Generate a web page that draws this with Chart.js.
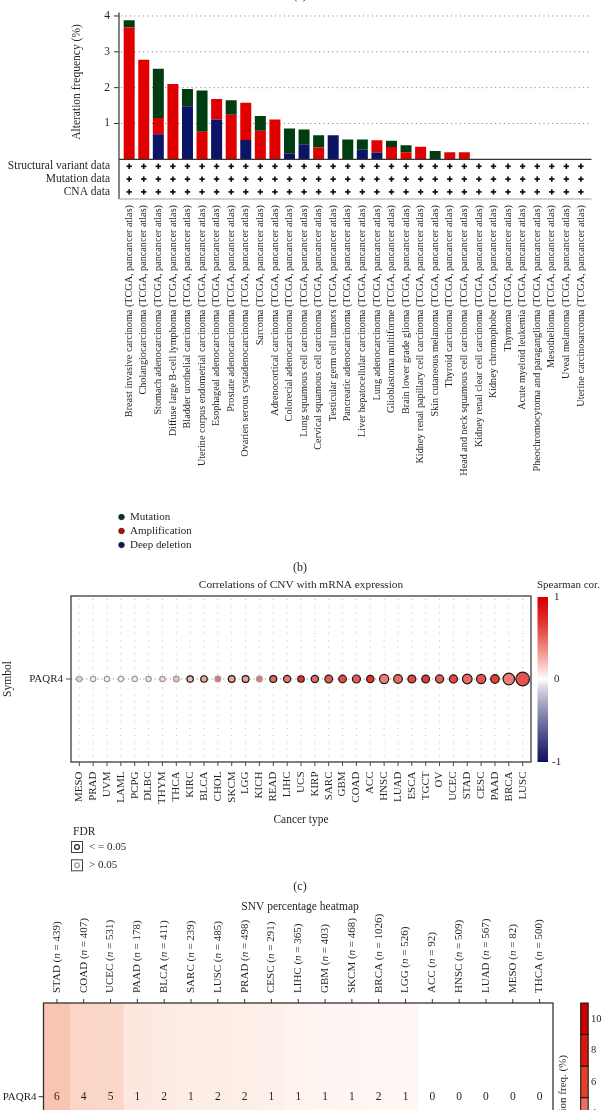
<!DOCTYPE html>
<html><head><meta charset="utf-8">
<script src="https://cdn.jsdelivr.net/npm/chart.js@4/dist/chart.umd.min.js"></script>
<style>
html,body{margin:0;padding:0;background:#fff;}
#wrap{position:relative;width:602px;height:1110px;overflow:hidden;background:#fff;}
canvas{position:absolute;left:0;}
</style></head><body>
<div id="wrap">
<canvas id="cA" width="602" height="560" style="top:0px"></canvas>
<canvas id="cB" width="602" height="335" style="top:560px"></canvas>
<canvas id="cC" width="602" height="300" style="top:895px"></canvas>
</div>
<script>
// ---------- Panel (a) data ----------
const cancerStudies = [
 'Breast invasive carcinoma (TCGA, pancancer atlas)',
 'Cholangiocarcinoma (TCGA, pancancer atlas)',
 'Stomach adenocarcinoma (TCGA, pancancer atlas)',
 'Diffuse large B-cell lymphoma (TCGA, pancancer atlas)',
 'Bladder urothelial carcinoma (TCGA, pancancer atlas)',
 'Uterine corpus endometrial carcinoma (TCGA, pancancer atlas)',
 'Esophageal adenocarcinoma (TCGA, pancancer atlas)',
 'Prostate adenocarcinoma (TCGA, pancancer atlas)',
 'Ovarien serous cystadenocarcinoma (TCGA, pancancer atlas)',
 'Sarcoma (TCGA, pancancer atlas)',
 'Adrenocortical carcinoma (TCGA, pancancer atlas)',
 'Colorecial adenocarcinoma (TCGA, pancancer atlas)',
 'Lung squamous cell carcinoma (TCGA, pancancer atlas)',
 'Cervical squamous cell carcinoma (TCGA, pancancer atlas)',
 'Testicular germ cell tumors (TCGA, pancancer atlas)',
 'Pancreatic adenocarcinoma (TCGA, pancancer atlas)',
 'Liver hepatocellular carcinoma (TCGA, pancancer atlas)',
 'Lung adenocarcinoma (TCGA, pancancer atlas)',
 'Glioblastoma multiforme (TCGA, pancancer atlas)',
 'Brain lower grade glioma (TCGA, pancancer atlas)',
 'Kidney renal papillary cell carcinoma (TCGA, pancancer atlas)',
 'Skin cutaneous melanoma (TCGA, pancancer atlas)',
 'Thyroid carcinoma (TCGA, pancancer atlas)',
 'Head and neck squamous cell carcinoma (TCGA, pancancer atlas)',
 'Kidney renal clear cell carcinoma (TCGA, pancancer atlas)',
 'Kidney chromophobe (TCGA, pancancer atlas)',
 'Thymoma (TCGA, pancancer atlas)',
 'Acute myeloid leukemia (TCGA, pancancer atlas)',
 'Pheochromocytoma and paraganglioma (TCGA, pancancer atlas)',
 'Mesothelioma (TCGA, pancancer atlas)',
 'Uveal melanoma (TCGA, pancancer atlas)',
 'Uterine carcinosarcoma (TCGA, pancancer atlas)'
];
const deepDeletion  = [0,0,0.70,0,1.48,0,1.11,0,0.54,0,0,0.17,0.42,0,0.67,0,0.27,0.19,0,0,0,0,0,0,0,0,0,0,0,0,0,0];
const amplification = [3.68,2.78,0.45,2.10,0,0.77,0.57,1.24,1.04,0.80,1.11,0,0,0.33,0,0,0,0.34,0.34,0.20,0.35,0,0.20,0.20,0,0,0,0,0,0,0,0];
const mutation      = [0.20,0,1.38,0,0.48,1.15,0,0.41,0,0.41,0,0.69,0.41,0.34,0,0.55,0.28,0,0.18,0.19,0,0.23,0,0,0,0,0,0,0,0,0,0];
const alterationTicks = [1,2,3,4];
const profileRows = ['Structural variant data','Mutation data','CNA data'];
const alterationLegend = ['Mutation','Amplification','Deep deletion'];

// ---------- Panel (b) data ----------
const cnvTypes = ['MESO','PRAD','UVM','LAML','PCPG','DLBC','THYM','THCA','KIRC','BLCA','CHOL','SKCM','LGG','KICH','READ','LIHC','UCS','KIRP','SARC','GBM','COAD','ACC','HNSC','LUAD','ESCA','TGCT','OV','UCEC','STAD','CESC','PAAD','BRCA','LUSC'];
const spearmanCor = [-0.1,0.05,0.03,0.02,0.05,0.08,0.10,0.20,0.22,0.28,0.45,0.30,0.30,0.45,0.50,0.45,0.72,0.50,0.55,0.62,0.55,0.70,0.42,0.50,0.62,0.68,0.55,0.62,0.50,0.58,0.66,0.42,0.58];
const negLog10FDR = [0.6,0.4,0.4,0.2,0.3,0.3,0.4,1.0,2.5,3.0,1.0,3.5,4.0,1.0,4.5,5.5,3.0,6.0,8.0,7.5,9.5,6.5,17,14,9,8,10,10,21,18,13,40,67];
const corTicks = [1,0,-1];
const fdrLegend = ['< = 0.05','> 0.05'];

// ---------- Panel (c) data ----------
const snvTypes = ['STAD','COAD','UCEC','PAAD','BLCA','SARC','LUSC','PRAD','CESC','LIHC','GBM','SKCM','BRCA','LGG','ACC','HNSC','LUAD','MESO','THCA'];
const snvSampleN = [439,407,531,178,411,239,485,498,291,365,403,468,1026,526,92,509,567,82,500];
const snvMutated = [6,4,5,1,2,1,2,2,1,1,1,1,2,1,0,0,0,0,0];
const freqLegendTicks = [10,8,6,4];

// ---------- helpers ----------
const FONT = '"Liberation Serif","DejaVu Serif",serif';
const INK = '#231f20';
function T(ctx, s, x, y, o) {
  o = o || {};
  ctx.save();
  ctx.font = (o.style ? o.style + ' ' : '') + (o.size || 11) + 'px ' + FONT;
  ctx.fillStyle = o.color || INK;
  ctx.textAlign = o.align || 'left';
  ctx.textBaseline = o.base || 'middle';
  ctx.translate(x, y);
  if (o.rot) ctx.rotate(o.rot);
  ctx.fillText(s, 0, 0);
  ctx.restore();
}
function line(ctx, x1, y1, x2, y2, color, w, dash) {
  ctx.save();
  ctx.strokeStyle = color; ctx.lineWidth = w || 1;
  ctx.setLineDash(dash || []);
  ctx.beginPath(); ctx.moveTo(x1, y1); ctx.lineTo(x2, y2); ctx.stroke();
  ctx.restore();
}
function corColor(v) {
  let r, g, b;
  if (v >= 0) {
    r = 255 - 45 * v; g = 255 * Math.pow(1 - v, 1.3); b = 255 * Math.pow(1 - v, 1.4);
  } else {
    const t = -v;
    r = 255 - 240 * Math.pow(t, 0.8); g = 255 - 240 * Math.pow(t, 0.8); b = 255 - 160 * Math.pow(t, 0.8);
  }
  return `rgb(${Math.round(r)},${Math.round(g)},${Math.round(b)})`;
}
function bubbleRadius(v) { return 2.3 + 0.55 * Math.sqrt(v); }
function freqColor(p) {
  const c = x => Math.max(0, Math.min(255, Math.round(x)));
  return `rgb(${c(255 - 4.4 * p)},${c(255 - 43 * p)},${c(255 - 57 * p)})`;
}
const BAR_COLORS = {del: '#0c1466', amp: '#e00000', mut: '#003d10'};

// ---------- Chart A ----------
const AX_L = 119, AX_R = 591.5, TABLE_BOTTOM = 199;
const plugA = {
  id: 'plugA',
  beforeDatasetsDraw(chart) {
    const {ctx, scales: {y}} = chart;
    alterationTicks.forEach(t => {
      const yy = y.getPixelForValue(t);
      line(ctx, AX_L + 2, yy, AX_R, yy, '#8a8a8a', 1, [1.2, 3.2]);
    });
  },
  afterDraw(chart) {
    const {ctx, scales: {x, y}} = chart;
    const y0 = y.getPixelForValue(0);
    line(ctx, AX_L, y.getPixelForValue(4.1), AX_L, TABLE_BOTTOM, '#333', 1.2);
    line(ctx, AX_L, y0, AX_R, y0, '#333', 1.2);
    line(ctx, AX_L, TABLE_BOTTOM, AX_R, TABLE_BOTTOM, '#a0a0a0', 1);
    alterationTicks.forEach(t => {
      const yy = y.getPixelForValue(t);
      line(ctx, AX_L - 5, yy, AX_L, yy, '#333', 1);
      T(ctx, String(t), AX_L - 9, yy, {align: 'right', size: 11.5});
    });
    T(ctx, 'Alteration frequency (%)', 77, 82, {align: 'center', rot: -Math.PI / 2, size: 11.5});
    profileRows.forEach((r, k) => {
      const yy = y0 + 7 + 12.8 * k;
      T(ctx, r, 110, yy, {align: 'right', size: 11.5});
      cancerStudies.forEach((c, i) => {
        const xx = x.getPixelForValue(i);
        line(ctx, xx - 2.7, yy, xx + 2.7, yy, '#111', 1.7);
        line(ctx, xx, yy - 2.7, xx, yy + 2.7, '#111', 1.7);
      });
    });
    cancerStudies.forEach((c, i) => {
      T(ctx, c, x.getPixelForValue(i), 205, {align: 'right', rot: -Math.PI / 2, size: 10.2});
    });
    const legCols = [BAR_COLORS.mut, BAR_COLORS.amp, BAR_COLORS.del];
    alterationLegend.forEach((s, k) => {
      const yy = 517 + 14 * k;
      ctx.save();
      ctx.beginPath(); ctx.arc(121.5, yy, 2.8, 0, Math.PI * 2);
      ctx.fillStyle = legCols[k]; ctx.fill();
      ctx.strokeStyle = '#222'; ctx.lineWidth = 0.8; ctx.stroke();
      ctx.restore();
      T(ctx, s, 130, yy, {size: 11});
    });
    T(ctx, '(a)', 300, -4, {align: 'center', size: 12});
  }
};
new Chart(document.getElementById('cA'), {
  type: 'bar',
  data: {
    labels: cancerStudies,
    datasets: [
      {label: 'Deep deletion', data: deepDeletion, backgroundColor: BAR_COLORS.del},
      {label: 'Amplification', data: amplification, backgroundColor: BAR_COLORS.amp},
      {label: 'Mutation', data: mutation, backgroundColor: BAR_COLORS.mut}
    ]
  },
  options: {
    responsive: false, animation: false, devicePixelRatio: 1,
    layout: {padding: {left: 121.9, right: 602 - 588.2, top: 12.4, bottom: 560 - 159.3}},
    datasets: {bar: {barPercentage: 0.755, categoryPercentage: 1, borderWidth: 0}},
    plugins: {legend: {display: false}, tooltip: {enabled: false}},
    scales: {
      x: {stacked: true, display: false},
      y: {stacked: true, display: false, min: 0, max: 4.1}
    }
  },
  plugins: [plugA]
});

// ---------- Chart B ----------
const plugB = {
  id: 'plugB',
  beforeDatasetsDraw(chart) {
    const {ctx, chartArea: a, scales: {x, y}} = chart;
    cnvTypes.forEach((c, i) => {
      const xx = x.getPixelForValue(i);
      line(ctx, xx, a.top + 3, xx, a.bottom, '#b5b5b5', 0.9, [1, 5.8]);
    });
    const y0 = y.getPixelForValue(0);
    line(ctx, a.left, y0, a.right, y0, '#888', 0.9, [1.2, 2.6]);
  },
  afterDraw(chart) {
    const {ctx, chartArea: a, scales: {x, y}} = chart;
    ctx.save();
    ctx.strokeStyle = '#4a4a4a'; ctx.lineWidth = 1.4;
    ctx.strokeRect(a.left, a.top, a.right - a.left, a.bottom - a.top);
    ctx.restore();
    const y0 = y.getPixelForValue(0);
    line(ctx, a.left - 5, y0, a.left, y0, '#4a4a4a', 1);
    T(ctx, 'PAQR4', a.left - 8, y0, {align: 'right', size: 11});
    T(ctx, 'Symbol', 8, y0, {align: 'center', rot: -Math.PI / 2, size: 11.5});
    cnvTypes.forEach((c, i) => {
      const xx = x.getPixelForValue(i);
      line(ctx, xx, a.bottom, xx, a.bottom + 4, '#4a4a4a', 1);
      T(ctx, c, xx, a.bottom + 9.5, {align: 'right', rot: -Math.PI / 2, size: 11});
    });
    T(ctx, '(b)', 300, 7.7, {align: 'center', size: 12});
    T(ctx, 'Correlations of CNV with mRNA expression', 301, 25, {align: 'center', size: 11.3});
    T(ctx, 'Cancer type', 301, 260, {align: 'center', size: 11.5});
    const cbL = 537.5, cbW = 10.5, cbT = a.top + 1, cbB = a.bottom;
    const grad = ctx.createLinearGradient(0, cbT, 0, cbB);
    for (let k = 0; k <= 40; k++) grad.addColorStop(k / 40, corColor(1 - k / 20));
    ctx.save(); ctx.fillStyle = grad; ctx.fillRect(cbL, cbT, cbW, cbB - cbT); ctx.restore();
    T(ctx, 'Spearman cor.', 537, 25, {size: 11});
    corTicks.forEach(t => {
      const yy = cbT + (1 - t) / 2 * (cbB - cbT);
      T(ctx, String(t), t < 0 ? 552 : 554, yy, {size: 11});
    });
    T(ctx, 'FDR', 73, 272, {size: 11.5});
    fdrLegend.forEach((s, k) => {
      const yy = 287 + 18.3 * k;
      const col = k === 0 ? '#222' : '#999';
      ctx.save();
      ctx.strokeStyle = '#444'; ctx.lineWidth = 1;
      ctx.strokeRect(71.5, yy - 5.5, 11, 11);
      ctx.beginPath(); ctx.arc(77, yy, 2.4, 0, Math.PI * 2);
      ctx.strokeStyle = col; ctx.lineWidth = 1.2; ctx.stroke();
      ctx.restore();
      T(ctx, s, 89, yy, {size: 11});
    });
    T(ctx, '(c)', 300, 326.7, {align: 'center', size: 12});
  }
};
new Chart(document.getElementById('cB'), {
  type: 'bubble',
  data: {
    datasets: [{
      data: cnvTypes.map((c, i) => ({x: i, y: 0, r: bubbleRadius(negLog10FDR[i])})),
      backgroundColor: spearmanCor.map(corColor),
      borderColor: negLog10FDR.map(v => v >= 1.3 ? '#1a1a1a' : '#9a9a9a'),
      borderWidth: 1.2
    }]
  },
  options: {
    responsive: false, animation: false, devicePixelRatio: 1,
    layout: {padding: {left: 71, right: 602 - 531, top: 36, bottom: 335 - 202}},
    plugins: {legend: {display: false}, tooltip: {enabled: false}},
    scales: {
      x: {type: 'linear', min: -0.6, max: 32.6, display: false},
      y: {type: 'linear', min: -1, max: 1, display: false}
    }
  },
  plugins: [plugB]
});

// ---------- Chart C ----------
const HEAT_SEG_COLORS = ['#c80000', '#d8180c', '#e3402a', '#ec7060'];
const plugC = {
  id: 'plugC',
  afterDraw(chart) {
    const {ctx, chartArea: a, scales: {x, y}} = chart;
    ctx.save();
    ctx.strokeStyle = '#333'; ctx.lineWidth = 1.3;
    ctx.strokeRect(a.left, a.top, a.right - a.left, a.bottom - a.top);
    ctx.restore();
    const yc = y.getPixelForValue(0.5);
    T(ctx, 'SNV percentage heatmap', 300, 11.7, {align: 'center', size: 11.5});
    line(ctx, a.left - 5, yc, a.left, yc, '#333', 1);
    T(ctx, 'PAQR4', a.left - 7, yc, {align: 'right', size: 11});
    snvTypes.forEach((c, i) => {
      const xx = x.getPixelForValue(i);
      line(ctx, xx, a.top - 4, xx, a.top, '#333', 1);
      ctx.save();
      ctx.translate(xx, 98); ctx.rotate(-Math.PI / 2);
      ctx.fillStyle = INK; ctx.textBaseline = 'middle'; ctx.textAlign = 'left';
      const p1 = c + ' (', p2 = 'n', p3 = ' = ' + snvSampleN[i] + ')';
      ctx.font = '11px ' + FONT; ctx.fillText(p1, 0, 0);
      let w = ctx.measureText(p1).width;
      ctx.font = 'italic 11px ' + FONT; ctx.fillText(p2, w, 0);
      w += ctx.measureText(p2).width;
      ctx.font = '11px ' + FONT; ctx.fillText(p3, w, 0);
      ctx.restore();
      T(ctx, String(snvMutated[i]), xx, yc, {align: 'center', size: 11.5});
    });
    const cbL = 580.7, cbW = 7.5, segH = 31.6, cbT = a.top;
    freqLegendTicks.forEach((t, k) => {
      const top = cbT + segH * k;
      ctx.save();
      ctx.fillStyle = HEAT_SEG_COLORS[k];
      ctx.fillRect(cbL, top, cbW, segH);
      ctx.strokeStyle = '#111'; ctx.lineWidth = 1;
      ctx.strokeRect(cbL, top, cbW, segH);
      ctx.restore();
      T(ctx, String(t), 591, top + segH / 2, {size: 10.5});
    });
    T(ctx, 'Mutation freq. (%)', 563, 160, {align: 'right', rot: -Math.PI / 2, size: 11});
  }
};
new Chart(document.getElementById('cC'), {
  type: 'bar',
  data: {
    labels: snvTypes,
    datasets: [{
      data: snvTypes.map(() => [0, 1]),
      backgroundColor: snvTypes.map((c, i) => freqColor(snvMutated[i] / snvSampleN[i] * 100)),
      borderWidth: 0, barPercentage: 1, categoryPercentage: 1
    }]
  },
  options: {
    responsive: false, animation: false, devicePixelRatio: 1,
    layout: {padding: {left: 43.5, right: 602 - 553, top: 108, bottom: 300 - 295.4}},
    plugins: {legend: {display: false}, tooltip: {enabled: false}},
    scales: {
      x: {display: false},
      y: {min: 0, max: 1, display: false}
    }
  },
  plugins: [plugC]
});
</script>
</body></html>
